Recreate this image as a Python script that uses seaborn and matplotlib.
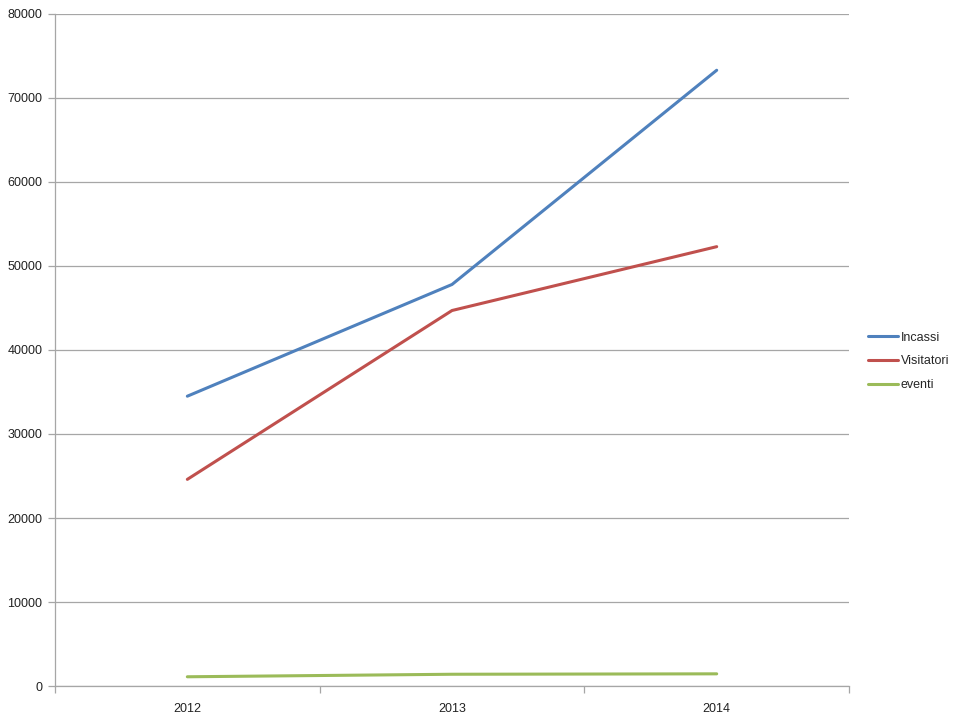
import pandas as pd
import matplotlib.pyplot as plt
import seaborn as sns

# data
anni = ["2012", "2013", "2014"]
incassi = [34500, 47800, 73300]
visitatori = [24600, 44700, 52300]
eventi = [1100, 1400, 1450]

df = pd.DataFrame({
    "anno": anni * 3,
    "valore": incassi + visitatori + eventi,
    "serie": ["Incassi"] * 3 + ["Visitatori"] * 3 + ["eventi"] * 3,
})

sns.set_style("white")
plt.rcParams["font.family"] = ["Liberation Sans", "DejaVu Sans"]

fig = plt.figure(figsize=(9.6, 7.2), dpi=100)
ax = fig.add_axes([0.0573, 0.0472, 0.8271, 0.9334])

palette = {"Incassi": "#4F81BD", "Visitatori": "#C0504D", "eventi": "#9BBB59"}
sns.lineplot(data=df, x="anno", y="valore", hue="serie", palette=palette,
             linewidth=2.2, ax=ax)

# axes look
ax.set_xlim(-0.5, 2.5)
ax.set_ylim(0, 80000)
ax.set_yticks(range(0, 80001, 10000))
ax.yaxis.grid(True, color="#a6a6a6", linewidth=0.9)
ax.set_axisbelow(True)
ax.set_xticks([0, 1, 2])
ax.set_xticklabels(anni)
ax.set_xticks([-0.5, 0.5, 1.5, 2.5], minor=True)
ax.tick_params(axis="x", which="major", bottom=False, labelsize=9, pad=9,
               labelcolor="#222222")
ax.tick_params(axis="x", which="minor", bottom=True, length=5, width=0.9,
               color="#a6a6a6")
ax.tick_params(axis="y", left=True, length=5, width=0.9, color="#a6a6a6",
               labelsize=9, pad=4, labelcolor="#222222")
ax.set_xlabel("")
ax.set_ylabel("")
for s in ["top", "right"]:
    ax.spines[s].set_visible(False)
for s in ["left", "bottom"]:
    ax.spines[s].set_color("#a6a6a6")
    ax.spines[s].set_linewidth(0.9)

ax.legend(title=None, frameon=False, loc="center left",
          bbox_to_anchor=(1.01, 0.483), fontsize=9, handlelength=2.4,
          handletextpad=0.2, labelspacing=0.95)

plt.savefig("out.png", dpi=100)
